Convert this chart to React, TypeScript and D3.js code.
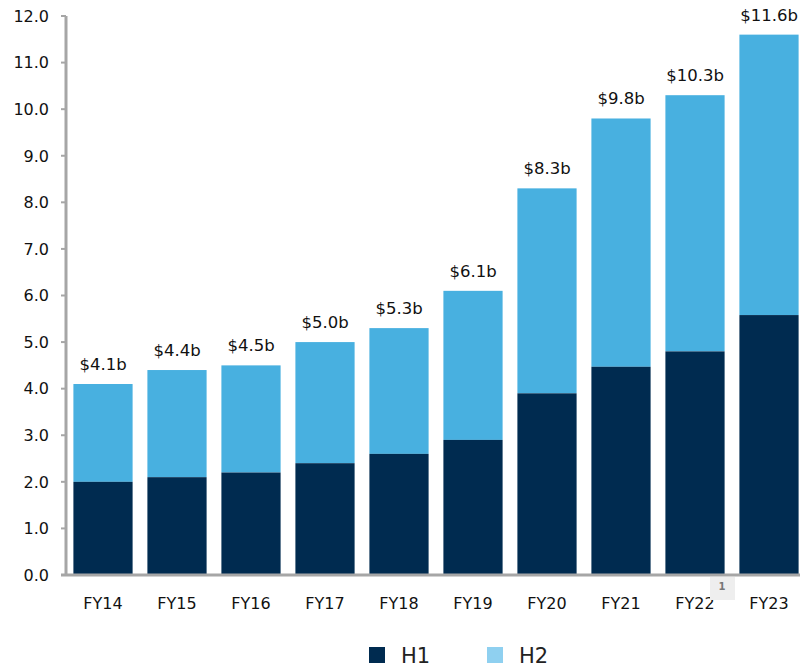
import React, { useEffect, useRef } from "react";
import * as d3 from "d3";

const years = ["FY14", "FY15", "FY16", "FY17", "FY18", "FY19", "FY20", "FY21", "FY22", "FY23"];
const h1 = [2.0, 2.1, 2.2, 2.4, 2.6, 2.9, 3.9, 4.47, 4.8, 5.58];
const totals = [4.1, 4.4, 4.5, 5.0, 5.3, 6.1, 8.3, 9.8, 10.3, 11.6];
const totalLabels = ["$4.1b", "$4.4b", "$4.5b", "$5.0b", "$5.3b", "$6.1b", "$8.3b", "$9.8b", "$10.3b", "$11.6b"];
const yTicks = [0, 1, 2, 3, 4, 5, 6, 7, 8, 9, 10, 11, 12];

const DARK = "#002b50";
const LIGHT = "#48b0e0";
const LEGEND_LIGHT = "#8fd0f0";
const FONT = "'DejaVu Sans', Verdana, sans-serif";

const App = () => {
  const svgRef = useRef(null);
  const width = 800;
  const height = 667;

  useEffect(() => {
    const svg = d3.select(svgRef.current);
    svg.selectAll("*").remove();

    const x = d3.scaleBand().domain(years).range([66, 806]).paddingInner(0.2).paddingOuter(0.1);
    const y = d3.scaleLinear().domain([0, 12]).range([575, 16]);

    const rows = years.map((yr, i) => ({ yr, h1: h1[i], total: totals[i], label: totalLabels[i] }));

    // H2 (top part) first, then H1 on top of it
    svg.selectAll(".h2")
      .data(rows)
      .join("rect")
      .attr("x", (d) => x(d.yr))
      .attr("width", x.bandwidth())
      .attr("y", (d) => y(d.total))
      .attr("height", (d) => y(d.h1) - y(d.total))
      .attr("fill", LIGHT);

    svg.selectAll(".h1")
      .data(rows)
      .join("rect")
      .attr("x", (d) => x(d.yr))
      .attr("width", x.bandwidth())
      .attr("y", (d) => y(d.h1))
      .attr("height", (d) => y(0) - y(d.h1))
      .attr("fill", DARK);

    // value labels
    svg.selectAll(".val")
      .data(rows)
      .join("text")
      .attr("x", (d) => x(d.yr) + x.bandwidth() / 2)
      .attr("y", (d) => y(d.total) - 14)
      .attr("text-anchor", "middle")
      .attr("font-family", FONT)
      .attr("font-size", 16.5)
      .attr("fill", "#111")
      .text((d) => d.label);

    // y axis
    const axisColor = "#a6a6a6";
    svg.append("line")
      .attr("x1", 66).attr("x2", 66)
      .attr("y1", y(12)).attr("y2", y(0) + 1)
      .attr("stroke", axisColor).attr("stroke-width", 3);
    svg.selectAll(".ytick")
      .data(yTicks)
      .join("line")
      .attr("x1", 61).attr("x2", 66)
      .attr("y1", (d) => y(d)).attr("y2", (d) => y(d))
      .attr("stroke", axisColor).attr("stroke-width", 2);
    svg.selectAll(".ylab")
      .data(yTicks)
      .join("text")
      .attr("x", 49)
      .attr("y", (d) => y(d))
      .attr("dy", "0.36em")
      .attr("text-anchor", "end")
      .attr("font-family", FONT)
      .attr("font-size", 16)
      .attr("fill", "#111")
      .text((d) => d3.format(".1f")(d));

    // baseline
    svg.append("line")
      .attr("x1", 61).attr("x2", width)
      .attr("y1", y(0)).attr("y2", y(0))
      .attr("stroke", axisColor).attr("stroke-width", 3);

    // x labels
    svg.selectAll(".xlab")
      .data(years)
      .join("text")
      .attr("x", (d) => x(d) + x.bandwidth() / 2)
      .attr("y", 609)
      .attr("text-anchor", "middle")
      .attr("font-family", FONT)
      .attr("font-size", 16)
      .attr("fill", "#111")
      .text((d) => d);

    // footnote marker
    svg.append("rect")
      .attr("x", 710).attr("y", 577).attr("width", 25).attr("height", 23)
      .attr("fill", "#eeeeee");
    svg.append("text")
      .attr("x", 722).attr("y", 590)
      .attr("text-anchor", "middle")
      .attr("font-family", FONT)
      .attr("font-size", 10)
      .attr("font-weight", "bold")
      .attr("fill", "#777")
      .text("1");

    // legend
    const legend = [
      { name: "H1", color: DARK, x: 369 },
      { name: "H2", color: LEGEND_LIGHT, x: 487 },
    ];
    const lg = svg.selectAll(".lg").data(legend).join("g");
    lg.append("rect")
      .attr("x", (d) => d.x).attr("y", 647)
      .attr("width", 16).attr("height", 16)
      .attr("fill", (d) => d.color);
    lg.append("text")
      .attr("x", (d) => d.x + 32).attr("y", 663)
      .attr("font-family", FONT)
      .attr("font-size", 21)
      .attr("fill", "#222")
      .text((d) => d.name);
  }, []);

  return (
    <svg
      ref={svgRef}
      width={width}
      height={height}
      style={{ position: "absolute", left: 0, top: 0, background: "#fff" }}
    ></svg>
  );
};

export default App;
